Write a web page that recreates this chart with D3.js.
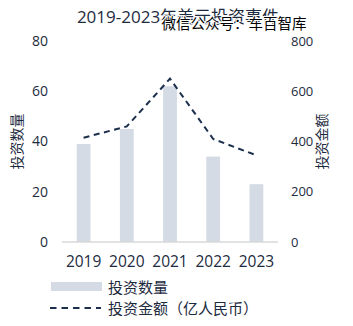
<!DOCTYPE html>
<html>
<head>
<meta charset="utf-8">
<script src="https://cdn.jsdelivr.net/npm/d3@7"></script>
<style>
  html, body { margin: 0; padding: 0; background: #fff; }
  svg { display: block; }
  text { font-family: "Open Sans", "Noto Sans CJK SC", sans-serif; }
</style>
</head>
<body>
<svg id="chart" width="353" height="326"></svg>
<script>
// Data
const years = ["2019", "2020", "2021", "2022", "2023"];
const dealCounts = [39, 45, 62, 34, 23];          // 投资数量 (bars, left axis)
const dealAmounts = [415, 460, 650, 410, 345];    // 投资金额（亿人民币） (dashed line, right axis)
const leftTicks = [0, 20, 40, 60, 80];
const rightTicks = [0, 200, 400, 600, 800];

const title = "2019-2023年美元投资事件";
const watermark = "微信公众号：车百智库";
const leftTitle = "投资数量";
const rightTitle = "投资金额";
const legendBar = "投资数量";
const legendLine = "投资金额（亿人民币）";

const textColor = "#1d2b40";
const barColor = "#d5dbe4";
const lineColor = "#1b2f4c";
const axisColor = "#d9d9d9";

const svg = d3.select("#chart");

const plot = { left: 62, right: 278, top: 41, bottom: 242 };

const x = d3.scaleBand()
  .domain(years)
  .range([plot.left, plot.right])
  .paddingInner(0.68)
  .paddingOuter(0.34);

const yLeft = d3.scaleLinear().domain([0, 80]).range([plot.bottom, plot.top]);
const yRight = d3.scaleLinear().domain([0, 800]).range([plot.bottom, plot.top]);

// Bars
svg.append("g")
  .selectAll("rect")
  .data(dealCounts)
  .join("rect")
  .attr("x", (d, i) => x(years[i]))
  .attr("y", d => yLeft(d))
  .attr("width", x.bandwidth())
  .attr("height", d => yLeft(0) - yLeft(d))
  .attr("fill", barColor);

// Baseline
svg.append("line")
  .attr("x1", plot.left).attr("x2", plot.right)
  .attr("y1", yLeft(0)).attr("y2", yLeft(0))
  .attr("stroke", axisColor).attr("stroke-width", 1.6);

// Dashed amount line
const line = d3.line()
  .x((d, i) => x(years[i]) + x.bandwidth() / 2)
  .y(d => yRight(d));

svg.append("path")
  .datum(dealAmounts)
  .attr("d", line)
  .attr("fill", "none")
  .attr("stroke", lineColor)
  .attr("stroke-width", 2)
  .attr("stroke-dasharray", "6,4.5");

// Left axis
const leftAxis = d3.axisLeft(yLeft).tickValues(leftTicks).tickSize(0).tickPadding(0);
const gL = svg.append("g").attr("transform", `translate(48,0)`).call(leftAxis);
gL.select(".domain").remove();
gL.selectAll("text").attr("fill", textColor).style("font-size", "14px")
  .style("font-family", "'Open Sans', sans-serif");

// Right axis
const rightAxis = d3.axisRight(yRight).tickValues(rightTicks).tickSize(0).tickPadding(0);
const gR = svg.append("g").attr("transform", `translate(291,0)`).call(rightAxis);
gR.select(".domain").remove();
gR.selectAll("text").attr("fill", textColor).style("font-size", "13px")
  .style("font-family", "'Open Sans', sans-serif");

// Category axis
const bottomAxis = d3.axisBottom(x).tickSize(0).tickPadding(0);
const gB = svg.append("g").attr("transform", `translate(0,${plot.bottom + 14})`).call(bottomAxis);
gB.select(".domain").remove();
gB.selectAll("text").attr("fill", textColor).style("font-size", "15.5px")
  .style("font-family", "'Open Sans', sans-serif");

// Axis titles
const midY = (plot.top + plot.bottom) / 2;
svg.append("text")
  .attr("transform", `translate(16,${midY}) rotate(-90)`)
  .attr("text-anchor", "middle").attr("dominant-baseline", "central")
  .attr("fill", textColor).style("font-size", "14px")
  .text(leftTitle);
svg.append("text")
  .attr("transform", `translate(321,${midY}) rotate(-90)`)
  .attr("text-anchor", "middle").attr("dominant-baseline", "central")
  .attr("fill", textColor).style("font-size", "14px")
  .text(rightTitle);

// Title
svg.append("text")
  .attr("x", 178).attr("y", 16)
  .attr("text-anchor", "middle").attr("dominant-baseline", "central")
  .attr("fill", textColor).style("font-size", "17px")
  .text(title);

// Watermark
svg.append("text")
  .attr("x", 234).attr("y", 23)
  .attr("text-anchor", "middle").attr("dominant-baseline", "central")
  .attr("fill", "#000").attr("stroke", "#fff").attr("stroke-width", 2)
  .attr("paint-order", "stroke")
  .style("font-size", "14.5px")
  .text(watermark);

// Legend
const lg = svg.append("g");
lg.append("rect")
  .attr("x", 51).attr("y", 282).attr("width", 51).attr("height", 9)
  .attr("fill", barColor);
lg.append("text")
  .attr("x", 108).attr("y", 286.5).attr("dominant-baseline", "central")
  .attr("fill", textColor).style("font-size", "15px")
  .text(legendBar);
lg.append("line")
  .attr("x1", 50).attr("x2", 101).attr("y1", 308).attr("y2", 308)
  .attr("stroke", lineColor).attr("stroke-width", 2)
  .attr("stroke-dasharray", "6.5,5");
lg.append("text")
  .attr("x", 108).attr("y", 308).attr("dominant-baseline", "central")
  .attr("fill", textColor).style("font-size", "15px")
  .text(legendLine);
</script>
</body>
</html>
